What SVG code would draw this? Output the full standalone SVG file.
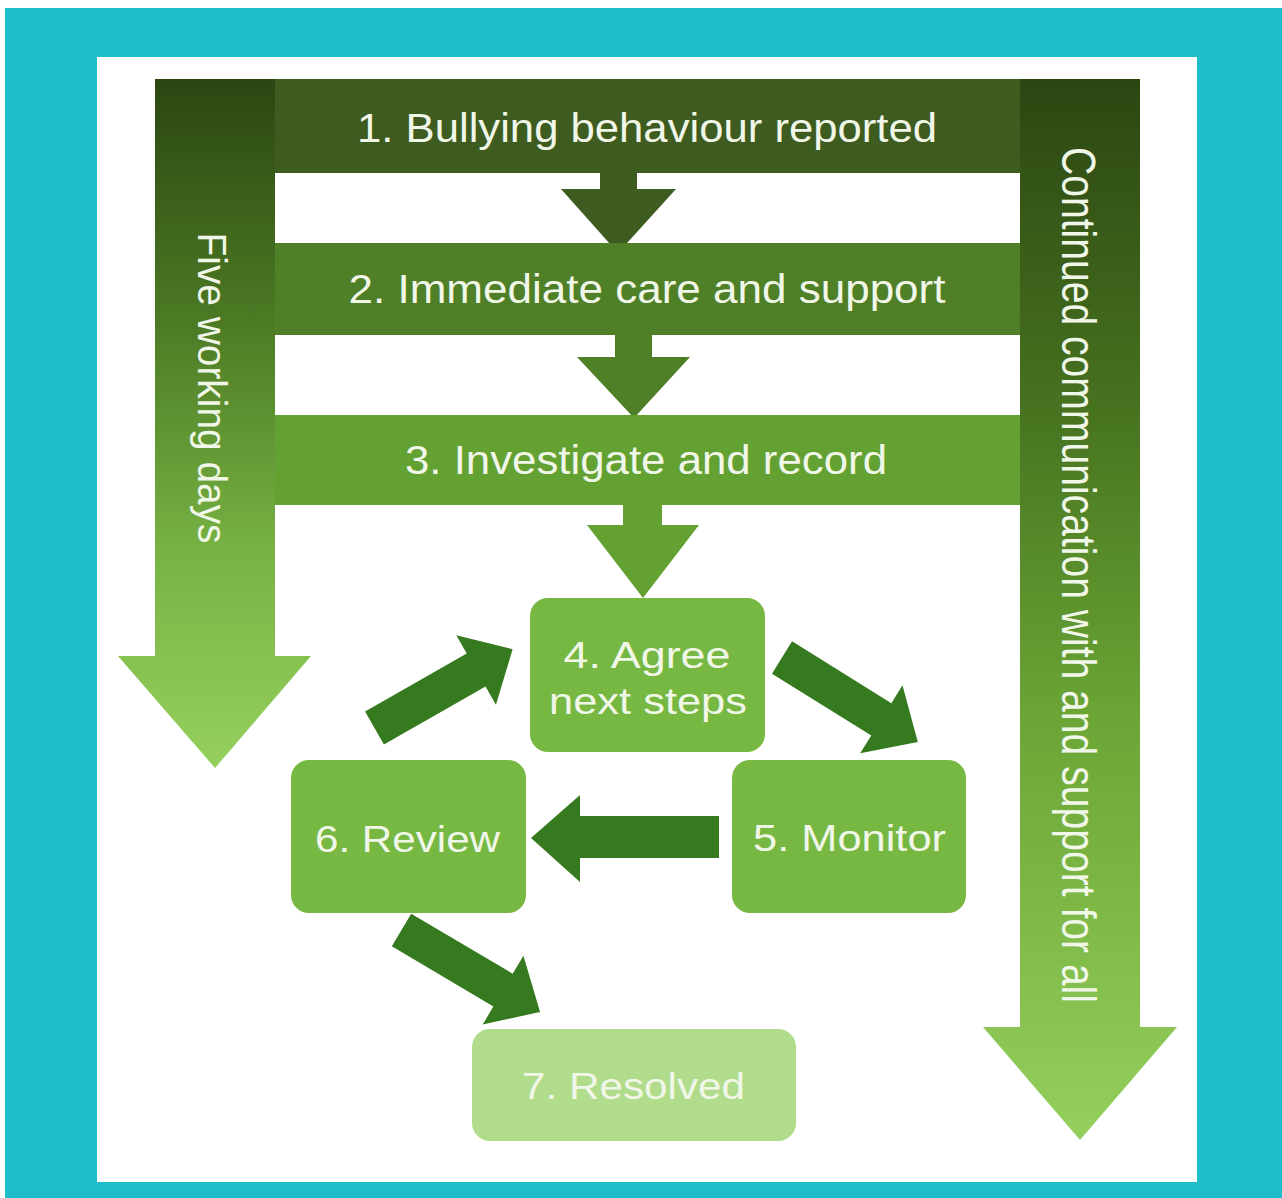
<svg xmlns="http://www.w3.org/2000/svg" width="1282" height="1198" viewBox="0 0 1282 1198">
<defs>
<linearGradient id="gLeft" x1="0" y1="0" x2="0" y2="1">
<stop offset="0" stop-color="#2c4612"/>
<stop offset="0.35" stop-color="#4c7a24"/>
<stop offset="0.7" stop-color="#79b545"/>
<stop offset="1" stop-color="#95d05d"/>
</linearGradient>
<linearGradient id="gRight" x1="0" y1="0" x2="0" y2="1">
<stop offset="0" stop-color="#2c4612"/>
<stop offset="0.3" stop-color="#46711f"/>
<stop offset="0.6" stop-color="#6aa535"/>
<stop offset="1" stop-color="#95d05d"/>
</linearGradient>
<style>
.band1{fill:#3e5c1f}
.band2{fill:#4f7f26}
.band3{fill:#64a133}
.node{fill:#77b843}
.node7{fill:#b1dc8b}
.darrow{fill:#357a1e}
.bt{font-family:"Liberation Sans",Arial,sans-serif;font-size:40px;fill:#f1f7e8;text-anchor:middle}
.nt{font-family:"Liberation Sans",Arial,sans-serif;font-size:37px;fill:#f1f7e8;text-anchor:middle}
.vt{font-family:"Liberation Sans",Arial,sans-serif;fill:#f1f7e8;text-anchor:middle}
</style>
</defs>
<rect x="0" y="0" width="1282" height="1198" fill="#ffffff"/>
<rect x="5" y="8" width="1277" height="1190" fill="#1dbec9"/>
<rect x="97" y="57" width="1100" height="1125" fill="#ffffff"/>

<g id="side-left">
<path d="M155,79 H275 V656 H311 L215,768 L118,656 H155 Z" fill="url(#gLeft)"/>
<text class="vt" font-size="37" transform="translate(198,388) scale(1.08,1) rotate(90)" x="0" y="0" textLength="311" lengthAdjust="spacingAndGlyphs">Five working days</text>
</g>

<g id="side-right">
<path d="M1020,79 H1140 V1027 H1177 L1080,1140 L983,1027 H1020 Z" fill="url(#gRight)"/>
<text class="vt" font-size="39" transform="translate(1062,575) scale(1.22,1) rotate(90)" x="0" y="0" textLength="856" lengthAdjust="spacingAndGlyphs">Continued communication with and support for all</text>
</g>

<g id="connectors">
<path class="band1" d="M600,172 H637 V189 H676 L618,253 L561,189 H600 Z"/>
<path class="band2" d="M615,334 H652 V357 H690 L634,418 L577,357 H615 Z"/>
<path class="band3" d="M623,504 H662 V525 H699 L643,598 L587,525 H623 Z"/>
<path class="darrow" d="M0,-19 H117 V-40 L160,0 L117,40 V19 H0 Z" transform="translate(782,657.5) rotate(31.9)"/>
<path class="darrow" d="M719,816 V858 H580 V882 L531,838 L580,795 V816 Z"/>
<path class="darrow" d="M0,-19 H117 V-40 L159,0 L117,40 V19 H0 Z" transform="translate(374.5,728) rotate(-29.7)"/>
<path class="darrow" d="M0,-19 H118 V-40 L161,0 L118,40 V19 H0 Z" transform="translate(401.5,930) rotate(30.6)"/>
</g>

<g id="step1">
<rect class="band1" x="275" y="79" width="745" height="94"/>
<text class="bt" x="647" y="142" textLength="580" lengthAdjust="spacingAndGlyphs">1. Bullying behaviour reported</text>
</g>
<g id="step2">
<rect class="band2" x="275" y="243" width="745" height="92"/>
<text class="bt" x="647" y="303" textLength="597" lengthAdjust="spacingAndGlyphs">2. Immediate care and support</text>
</g>
<g id="step3">
<rect class="band3" x="275" y="415" width="745" height="90"/>
<text class="bt" x="646" y="474" textLength="482" lengthAdjust="spacingAndGlyphs">3. Investigate and record</text>
</g>

<g id="step4">
<rect class="node" x="530" y="598" width="235" height="154" rx="18"/>
<text class="nt" x="647" y="668" textLength="167" lengthAdjust="spacingAndGlyphs">4. Agree</text>
<text class="nt" x="648" y="714" textLength="198" lengthAdjust="spacingAndGlyphs">next steps</text>
</g>
<g id="step5">
<rect class="node" x="732" y="760" width="234" height="153" rx="18"/>
<text class="nt" x="849.5" y="851" textLength="193" lengthAdjust="spacingAndGlyphs">5. Monitor</text>
</g>
<g id="step6">
<rect class="node" x="291" y="760" width="235" height="153" rx="18"/>
<text class="nt" x="407.5" y="852" textLength="185" lengthAdjust="spacingAndGlyphs">6. Review</text>
</g>
<g id="step7">
<rect class="node7" x="472" y="1029" width="324" height="112" rx="18"/>
<text class="nt" x="633.5" y="1099" textLength="223" lengthAdjust="spacingAndGlyphs">7. Resolved</text>
</g>
</svg>
